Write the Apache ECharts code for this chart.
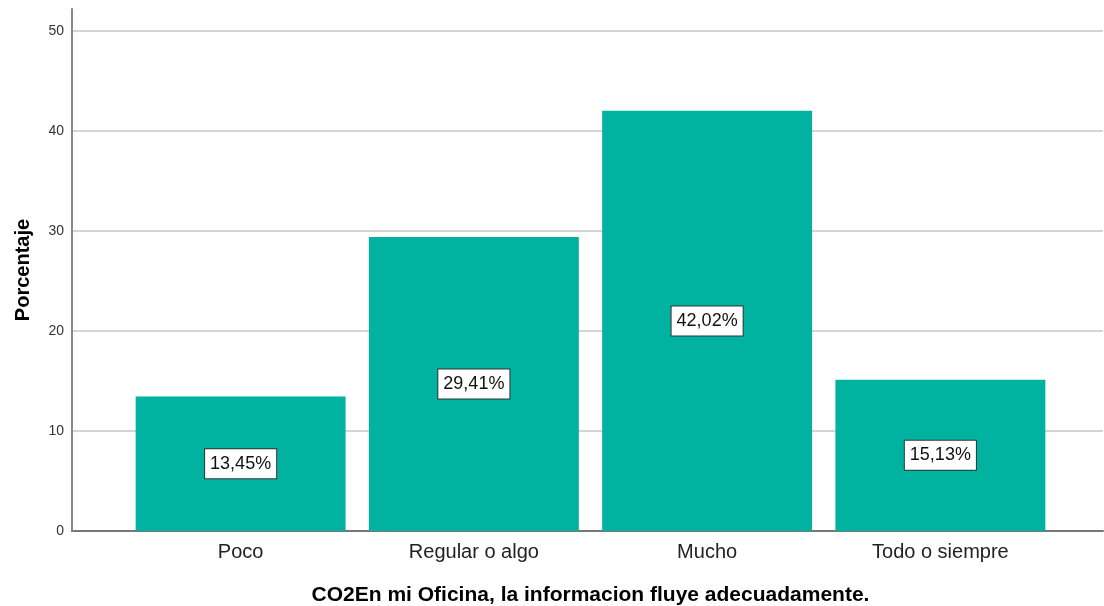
<!DOCTYPE html>
<html>
<head>
<meta charset="utf-8">
<script src="https://cdn.jsdelivr.net/npm/echarts@6/dist/echarts.min.js"></script>
<style>
  html, body { margin: 0; padding: 0; background: #fff; }
  #chart { width: 1104px; height: 606px; }
</style>
</head>
<body>
<div id="chart"></div>
<script>
const categories = ['Poco', 'Regular o algo', 'Mucho', 'Todo o siempre'];
const percentages = [13.45, 29.41, 42.02, 15.13];
const yTicks = [0, 10, 20, 30, 40, 50];

const FONT = '"Liberation Sans", Arial, sans-serif';
const yMax = 52.2;

const chart = echarts.init(document.getElementById('chart'));

chart.setOption({
  animation: false,
  backgroundColor: '#fff',
  grid: [
    // frame: axes and gridlines
    { left: 72, right: 1, top: 9, bottom: 75, outerBoundsMode: 'none', containLabel: false },
    // bars sit in a narrower band inside the frame
    { left: 124, right: 47, top: 9, bottom: 75, outerBoundsMode: 'none', containLabel: false }
  ],
  xAxis: [
    {
      gridIndex: 0,
      type: 'category',
      data: categories,
      axisLine: { lineStyle: { color: '#777', width: 2 } },
      axisTick: { show: false },
      axisLabel: { show: false }
    },
    {
      gridIndex: 1,
      type: 'category',
      data: categories,
      axisLine: { show: false },
      axisTick: { show: false },
      axisLabel: { fontFamily: FONT, fontSize: 20, color: '#222', margin: 11 },
      name: 'CO2En mi Oficina, la informacion fluye adecuadamente.',
      nameLocation: 'middle',
      nameGap: 54,
      nameTextStyle: { fontFamily: FONT, fontSize: 21, fontWeight: 'bold', color: '#000' }
    }
  ],
  yAxis: [
    {
      gridIndex: 0,
      type: 'value',
      min: 0,
      max: yMax,
      interval: 10,
      axisLine: { show: true, lineStyle: { color: '#888', width: 2 } },
      axisTick: { show: false },
      axisLabel: {
        fontFamily: FONT, fontSize: 14, color: '#333', margin: 8,
        showMaxLabel: false,
        formatter: v => (yTicks.indexOf(v) >= 0 ? String(v) : '')
      },
      splitLine: { show: true, showMaxLine: false, lineStyle: { color: '#d4d4d4', width: 2 } },
      name: 'Porcentaje',
      nameLocation: 'middle',
      nameGap: 39,
      nameTextStyle: { fontFamily: FONT, fontSize: 20, fontWeight: 'bold', color: '#000' }
    },
    {
      gridIndex: 1,
      type: 'value',
      min: 0,
      max: yMax,
      show: false,
      splitLine: { show: false }
    }
  ],
  series: [
    {
      type: 'bar',
      xAxisIndex: 1,
      yAxisIndex: 1,
      data: percentages,
      barCategoryGap: '10%',
      itemStyle: { color: '#00b2a0' },
      label: {
        show: true,
        position: 'inside',
        fontFamily: FONT,
        fontSize: 18,
        lineHeight: 20,
        color: '#111',
        backgroundColor: '#fff',
        borderColor: '#333',
        borderWidth: 1,
        padding: [5, 5, 4, 5],
        formatter: p => p.value.toFixed(2).replace('.', ',') + '%'
      }
    }
  ]
});
</script>
</body>
</html>
